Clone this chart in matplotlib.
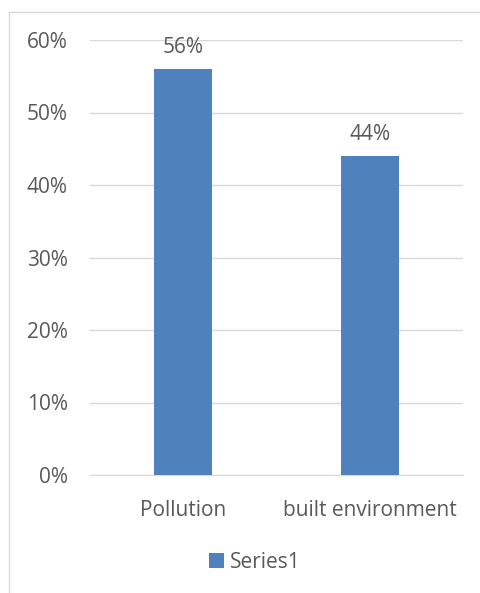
"""Bar chart: share by category
"""
import matplotlib.pyplot as plt
from matplotlib.lines import Line2D

categories = ["Pollution", "built environment"]
values = [0.56, 0.44]
y_ticks = [0.0, 0.1, 0.2, 0.3, 0.4, 0.5, 0.6]
series_name = "Series1"

BAR_COLOR = "#4f81bd"
TEXT_COLOR = "#595959"
GRID_COLOR = "#d9d9d9"
FS = 15

plt.rcParams["font.family"] = ["Open Sans", "DejaVu Sans"]

fig = plt.figure(figsize=(4.8, 5.93), dpi=100)
# outer chart border (only left and top are inside the picture)
left, top = 8.5 / 480, 1 - 11.5 / 593
fig.add_artist(Line2D([left, left], [0, top], color=GRID_COLOR, lw=1))
fig.add_artist(Line2D([left, 1], [top, top], color=GRID_COLOR, lw=1))

ax = fig.add_axes([90 / 480, 1 - 475 / 593, 373 / 480, 435 / 593])
x = range(len(categories))
bars = ax.bar(x, values, width=0.31, color=BAR_COLOR, zorder=3,
              label=series_name)
for xi, v in zip(x, values):
    ax.annotate(f"{v:.0%}", (xi, v), xytext=(0, 8), textcoords="offset points",
                ha="center", va="bottom", fontsize=FS, color=TEXT_COLOR)

ax.set_xlim(-0.5, 1.5)
ax.set_ylim(0, 0.6)
ax.set_yticks(y_ticks)
ax.set_yticklabels([f"{t:.0%}" for t in y_ticks])
ax.set_xticks(list(x))
ax.set_xticklabels(categories)
ax.tick_params(length=0, colors=TEXT_COLOR, labelsize=FS)
ax.tick_params(axis="y", pad=16)
ax.tick_params(axis="x", pad=18)
ax.yaxis.grid(True, color=GRID_COLOR, linewidth=1, zorder=0)
for side in ["top", "right", "left"]:
    ax.spines[side].set_visible(False)
ax.spines["bottom"].set_color(GRID_COLOR)

leg = fig.legend(handles=[bars], labels=[series_name], loc="center",
                 bbox_to_anchor=(255 / 480, 1 - 562 / 593), frameon=False,
                 fontsize=FS, handlelength=0.7, handleheight=0.7,
                 handletextpad=0.3)
for t in leg.get_texts():
    t.set_color(TEXT_COLOR)

fig.savefig("out.png", dpi=100, facecolor="white")
